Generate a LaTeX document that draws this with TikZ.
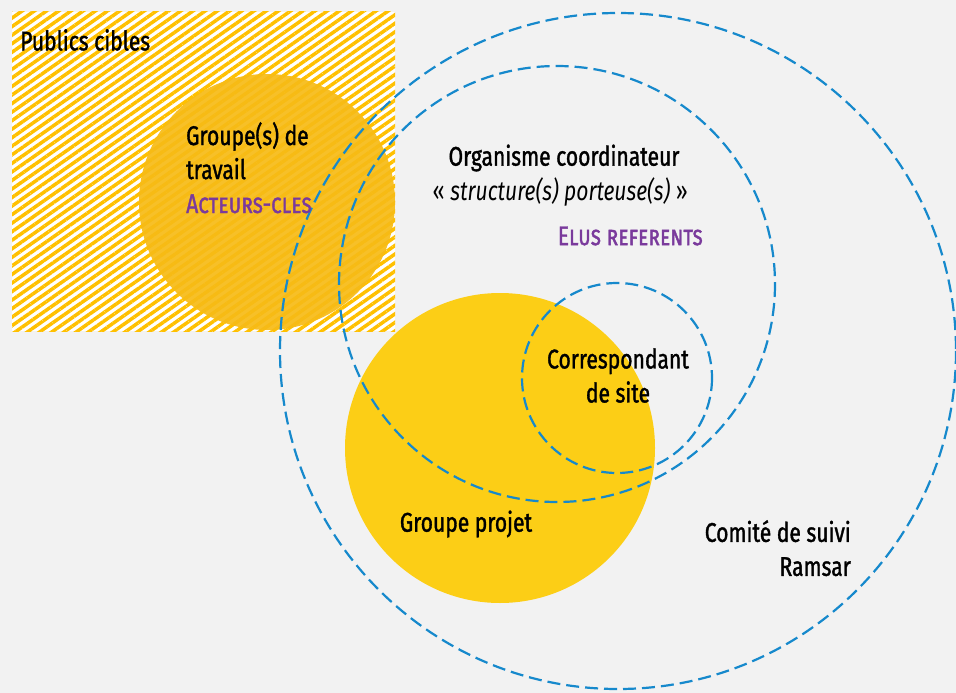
\documentclass[tikz,border=0pt]{standalone}
\usepackage{fontspec}
\setmainfont[FakeStretch=0.78,FakeBold=1.3]{Fira Sans}
\newfontfamily\lightit[FakeStretch=0.78]{Fira Sans}
\usepackage{xcolor}
\definecolor{myblue}{RGB}{22,137,204}
\definecolor{mypurple}{RGB}{122,58,156}
\definecolor{myyellow}{RGB}{252,206,22}
\definecolor{myorange}{RGB}{247,187,22}
\definecolor{myhatch}{RGB}{255,192,0}
\definecolor{mygrey}{RGB}{242,242,242}
\usepackage{tikz}
\usetikzlibrary{patterns.meta}

\begin{document}
\begin{tikzpicture}[x=1pt,y=-1pt,line cap=butt]
	\tikzstyle{ring}=[myblue,line width=2.2pt,dash pattern=on 13pt off 6pt];
	\tikzstyle{txt}=[inner sep=0pt,font=\fontsize{27}{34}\selectfont];
	\fill[mygrey] (0,0) rectangle (956,693);
	\useasboundingbox (0,0) rectangle (956,693);
	% hachures
	\fill[white] (12,12) rectangle (395,331);
	\fill[pattern={Lines[angle=35,distance=7pt,line width=3.5pt]},pattern color=myhatch] (12,12) rectangle (395,331);
	\fill[myorange,opacity=0.92] (267,202) circle[radius=128];
	\fill[myyellow] (500,448) circle[radius=155];
	\draw[ring] (618,351) circle[radius=338];
	\draw[ring] (557,284) circle[radius=218];
	\draw[ring] (617,378) circle[radius=95];
	% textes
	\node[txt,anchor=west] (publics) at (20,40) {Publics cibles};
	\node[txt,anchor=north west,align=left] (travail) at (186,122)
		{Groupe(s) de\\travail\\\textcolor{mypurple}{\textsc{Acteurs-cles}}};
	\node[txt,anchor=center] (orga) at (564,158) {Organisme coordinateur};
	\node[txt,anchor=east,font=\fontsize{27}{34}\lightit] (porteuse) at (688,192) {«~\textit{structure(s) porteuse(s)}~»};
	\node[txt,anchor=east,text=mypurple] (elus) at (703,236) {\textsc{Elus referents}};
	\node[txt,anchor=north,align=center] (corresp) at (618,348) {Correspondant\\de site};
	\node[txt,anchor=center] (projet) at (466,524) {Groupe projet};
	\node[txt,anchor=north east,align=right] (comite) at (851,520) {Comité de suivi\\Ramsar};
\end{tikzpicture}
\end{document}
